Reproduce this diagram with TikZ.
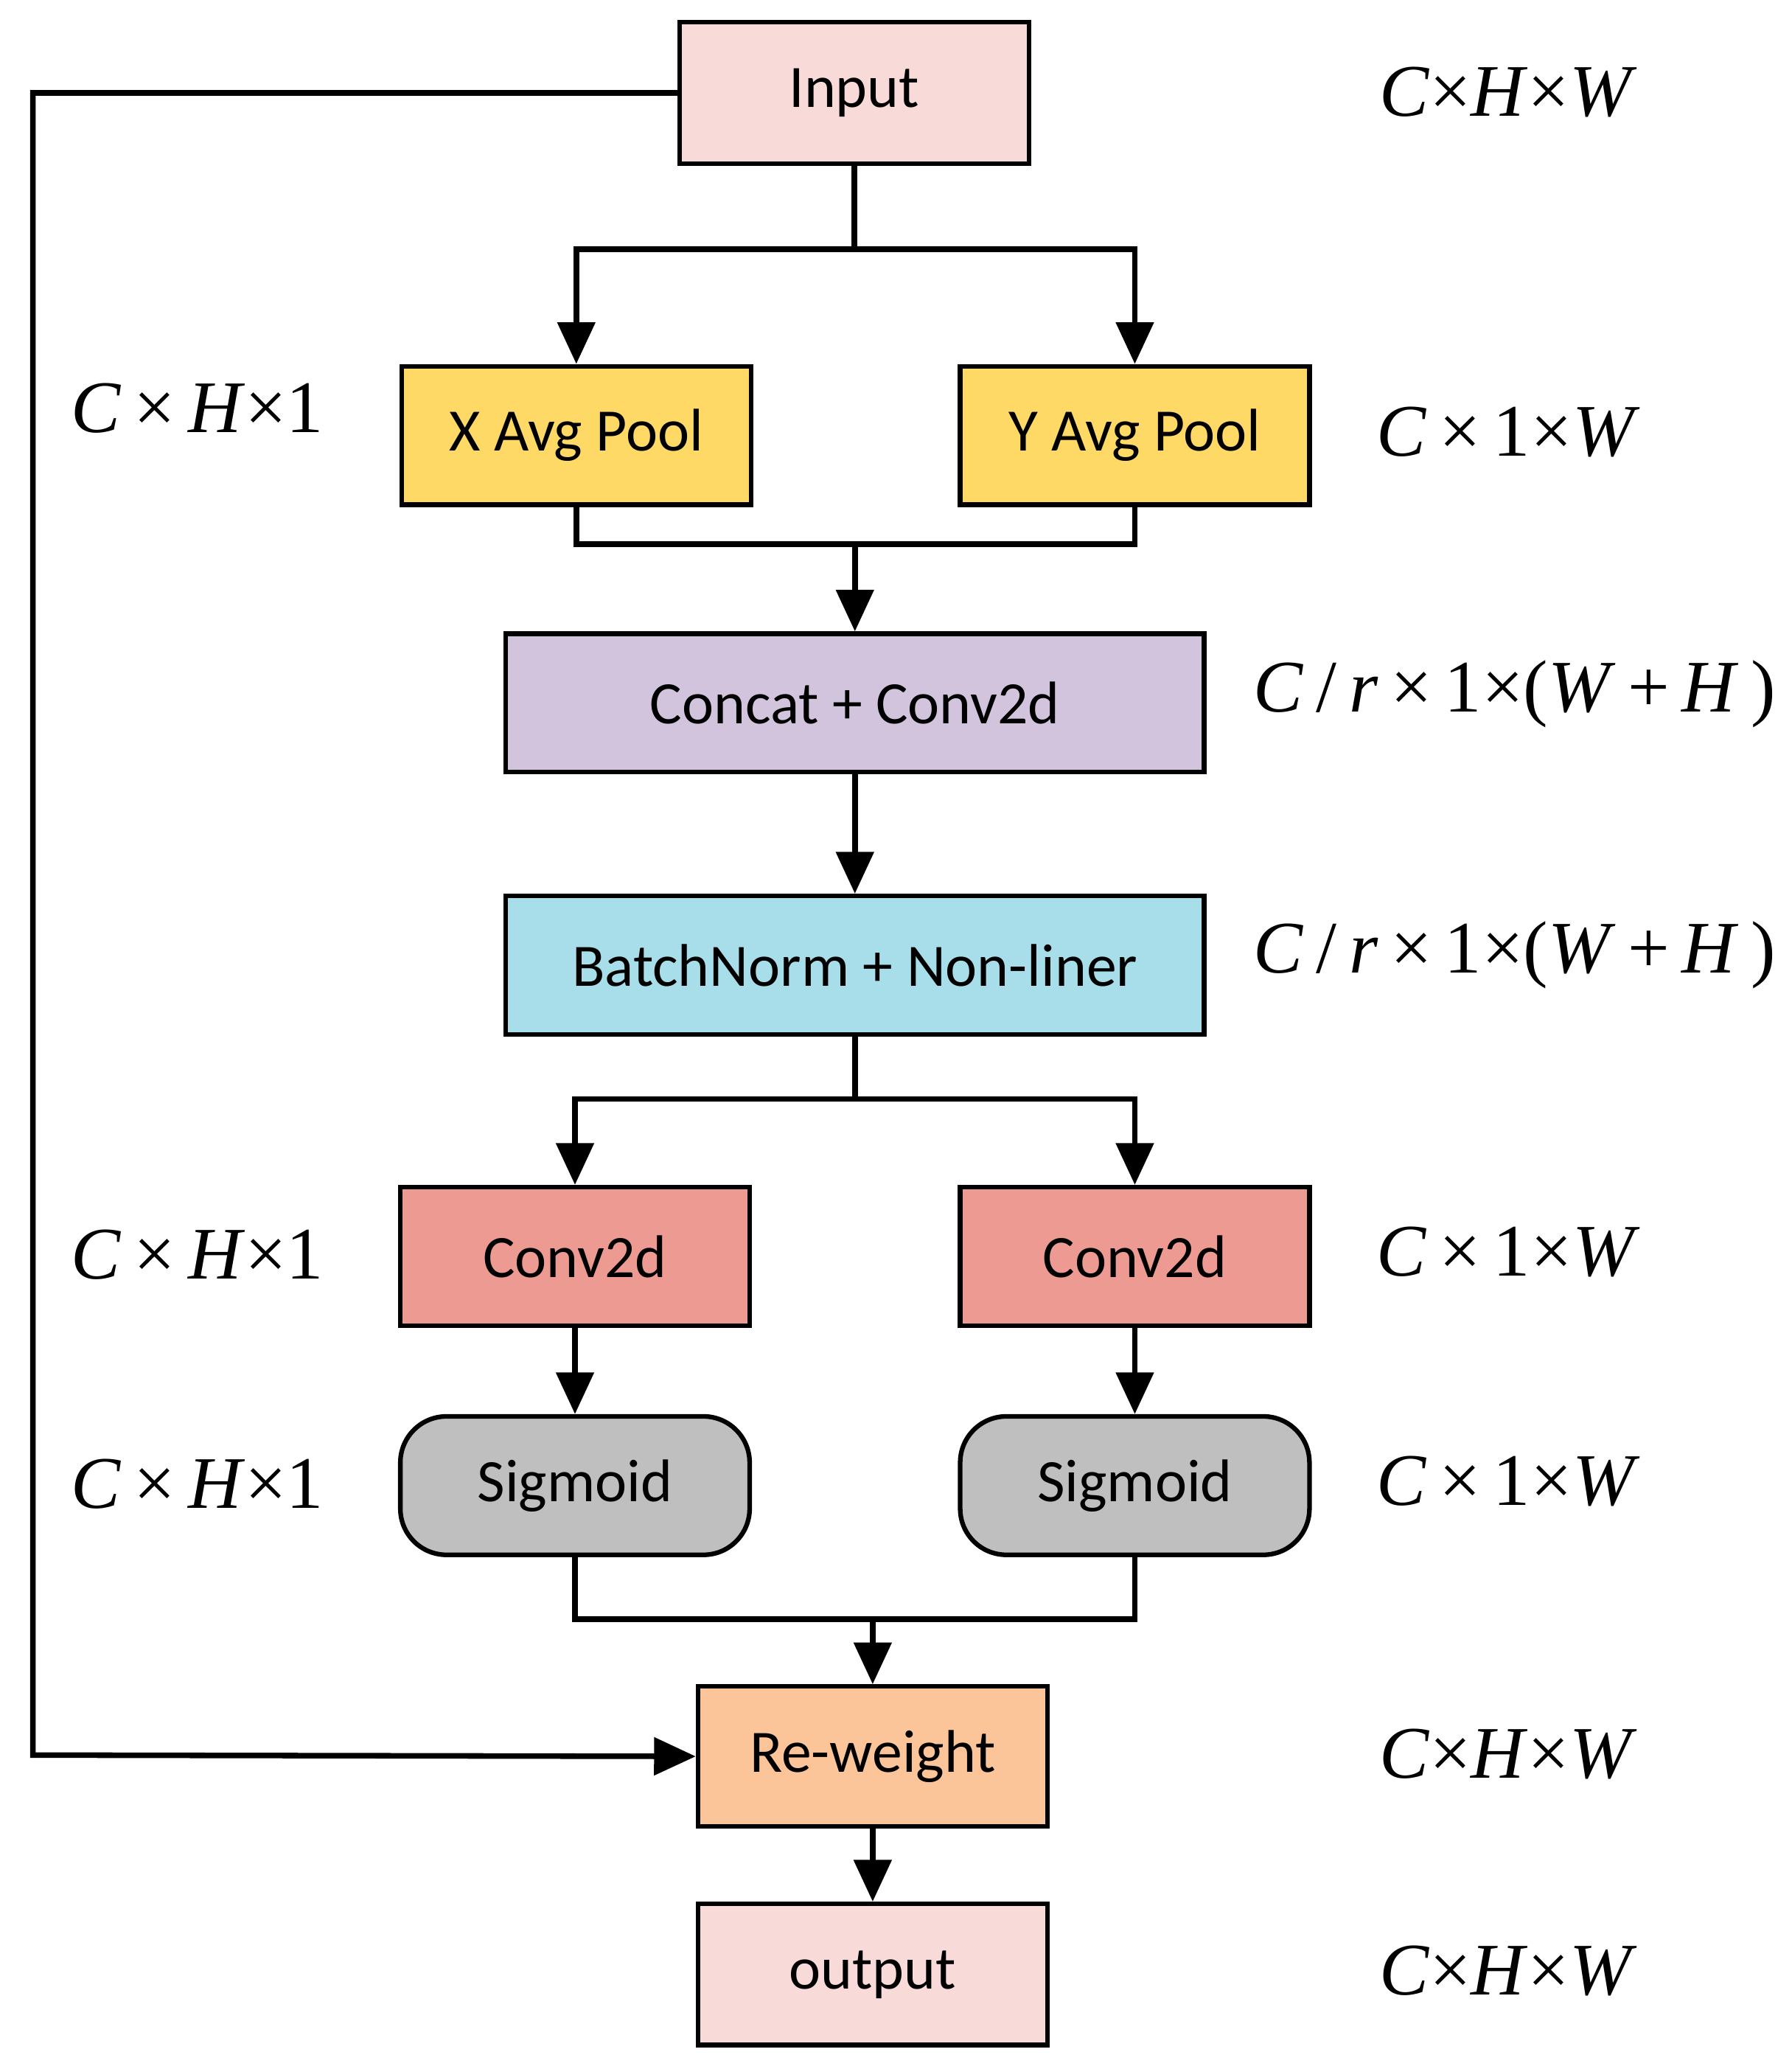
\documentclass[tikz,border=0pt]{standalone}
\usepackage{fontspec}
\setmainfont{Carlito}
\newfontfamily\tnr{Liberation Serif}
\usetikzlibrary{arrows.meta}
\definecolor{cin}{HTML}{F8DBD9}
\definecolor{cpool}{HTML}{FFD966}
\definecolor{ccat}{HTML}{D2C4DD}
\definecolor{cbn}{HTML}{A8DEEA}
\definecolor{cconv}{HTML}{EC9A92}
\definecolor{csig}{HTML}{BFBFBF}
\definecolor{crw}{HTML}{FCC499}
\newcommand\iv[1]{\textit{#1}}
\newcommand\tm{\,\texttimes\,}
\begin{document}
\begin{tikzpicture}[x=0.01cm,y=-0.01cm,
  box/.style={draw,line width=1pt,inner sep=0pt,font=\fontsize{13}{15}\selectfont},
  ln/.style={line width=1.2pt},
  ar/.style={ln,-{Triangle[length=9pt,width=8pt]}},
  lab/.style={font=\tnr\fontsize{16}{18}\selectfont}]
\useasboundingbox (0,0) rectangle (1360,1568);
\node[box,fill=cin,minimum width=2.65cm,minimum height=1.07cm] (in) at (648.5,70.5) {Input};
\node[box,fill=cpool,minimum width=2.65cm,minimum height=1.05cm] (xp) at (437.5,330.5) {X Avg Pool};
\node[box,fill=cpool,minimum width=2.65cm,minimum height=1.05cm] (yp) at (861.5,330.5) {Y Avg Pool};
\node[box,fill=ccat,minimum width=5.3cm,minimum height=1.05cm] (cat) at (649,533.5) {Concat + Conv2d};
\node[box,fill=cbn,minimum width=5.3cm,minimum height=1.05cm] (bn) at (649,732.5) {BatchNorm + Non-liner};
\node[box,fill=cconv,minimum width=2.65cm,minimum height=1.05cm] (cl) at (436.5,953.5) {Conv2d};
\node[box,fill=cconv,minimum width=2.65cm,minimum height=1.05cm] (cr) at (861.5,953.5) {Conv2d};
\node[box,fill=csig,rounded corners=0.35cm,minimum width=2.65cm,minimum height=1.05cm] (sl) at (436.5,1127.5) {Sigmoid};
\node[box,fill=csig,rounded corners=0.35cm,minimum width=2.65cm,minimum height=1.05cm] (sr) at (861.5,1127.5) {Sigmoid};
\node[box,fill=crw,minimum width=2.65cm,minimum height=1.06cm] (rw) at (662.5,1333) {Re-weight};
\node[box,fill=cin,minimum width=2.65cm,minimum height=1.07cm] (out) at (662.5,1498.5) {output};
% connectors
\coordinate (j1) at (648.5,189);
\draw[ln] (in.south) -- (j1);
\draw[ar] (j1) -- (437.5,189) -- (xp.north);
\draw[ar] (j1) -- (861.5,189) -- (yp.north);
\draw[ln] (xp.south) -- (437.5,413) -- (861.5,413) -- (yp.south);
\draw[ar] (649,413) -- (cat.north);
\draw[ar] (cat.south) -- (bn.north);
\coordinate (j2) at (649,834);
\draw[ln] (bn.south) -- (j2);
\draw[ar] (j2) -- (436.5,834) -- (cl.north);
\draw[ar] (j2) -- (861.5,834) -- (cr.north);
\draw[ar] (cl.south) -- (sl.north);
\draw[ar] (cr.south) -- (sr.north);
\draw[ln] (sl.south) -- (436.5,1229) -- (861.5,1229) -- (sr.south);
\draw[ar] (662.5,1229) -- (rw.north);
\draw[ar] (in.west) -- (25,70.5) -- (25,1332) -- (rw.west);
\draw[ar] (rw.south) -- (out.north);
% labels
\node[lab] at (1145,70) {\iv{C}\texttimes\iv{H}\texttimes\iv{W}};
\node[lab] at (150,310) {\iv{C}\tm\iv{H}\texttimes1};
\node[lab] at (1145,328) {\iv{C}\tm1\texttimes\iv{W}};
\node[lab] at (1150,527) {\iv{C}\,/\,\iv{r}\tm1\texttimes(\iv{W}\,+\,\iv{H}\,)};
\node[lab] at (1150,725) {\iv{C}\,/\,\iv{r}\tm1\texttimes(\iv{W}\,+\,\iv{H}\,)};
\node[lab] at (150,952) {\iv{C}\tm\iv{H}\texttimes1};
\node[lab] at (1145,950) {\iv{C}\tm1\texttimes\iv{W}};
\node[lab] at (150,1126) {\iv{C}\tm\iv{H}\texttimes1};
\node[lab] at (1145,1124) {\iv{C}\tm1\texttimes\iv{W}};
\node[lab] at (1145,1331) {\iv{C}\texttimes\iv{H}\texttimes\iv{W}};
\node[lab] at (1145,1496) {\iv{C}\texttimes\iv{H}\texttimes\iv{W}};
\end{tikzpicture}
\end{document}
